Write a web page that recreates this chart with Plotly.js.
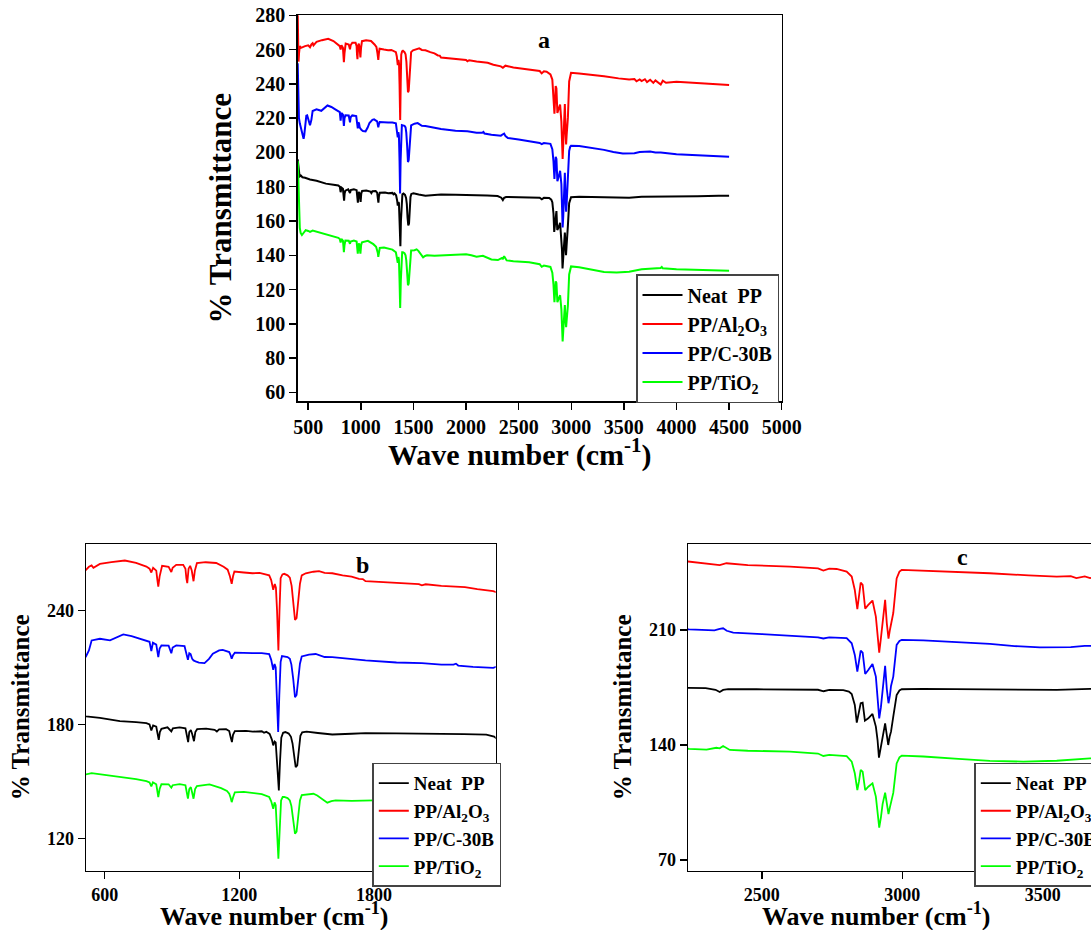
<!DOCTYPE html>
<html>
<head>
<meta charset="utf-8">
<script src="https://cdn.plot.ly/plotly-3.0.1.min.js"></script>
<style>
  html, body { margin: 0; padding: 0; overflow: hidden; background: #fff; }
  #chart { width: 1110px; height: 930px; }
</style>
</head>
<body>
<div id="chart"></div>
<script>
// ---- Data: [wave number (cm-1), % transmittance (offset)] ----
const neatPP = [[400,196],[404,194],[410,189],[418,186],[430,186.5],[445,185.5],[470,185.2],[500,184.6],[517,184.2],[579,183.5],[668,181.8],[740,181.2],[786,180.7],[800,180],[808,176.8],[816,179.5],[830,178.8],[836,175],[841,171.9],[846,176],[853,177.7],[880,178.5],[890,177.5],[897,176.3],[904,178],[934,178.5],[960,178],[966,175],[972,170.7],[977,176],[984,177],[990,175],[998,171.2],[1004,176],[1012,177.5],[1052,177.8],[1090,177.2],[1100,176.3],[1110,177.4],[1141,177.5],[1155,176.5],[1162,173],[1167,170.7],[1172,174.5],[1180,176.5],[1230,176.6],[1260,176.2],[1300,176.4],[1310,175.6],[1320,176.1],[1335,175],[1345,172],[1351,169],[1357,171],[1362,170.5],[1368,160],[1376,145.3],[1381,160],[1387,173],[1395,175.6],[1405,176],[1420,175.2],[1430,173.5],[1437,170],[1444,162],[1451,157.5],[1458,158.5],[1465,167],[1472,174],[1480,175.8],[1500,176.2],[1550,175.5],[1614,174.7],[1700,175.1],[1762,175.4],[1900,175.3],[2057,175.2],[2200,174.9],[2300,174.6],[2335,173.6],[2350,172.2],[2362,173.5],[2380,174],[2481,173.9],[2600,173.8],[2700,173.6],[2720,172.7],[2740,173.5],[2790,173.4],[2810,172.5],[2820,171],[2831,164.4],[2838,153.6],[2845,159],[2852,165.4],[2859,165.8],[2867,154.8],[2879,156.2],[2894,158.9],[2906,151.2],[2912,143],[2917,132.3],[2923,138],[2930,145.5],[2939,153.2],[2945,146],[2950,140],[2955,145],[2960,148.1],[2968,157.3],[2980,170.4],[2990,173.2],[2998,173.9],[3075,174.1],[3200,173.9],[3312,173.7],[3450,173.4],[3550,173.5],[3669,174.1],[3800,174.3],[4000,174.3],[4200,174.5],[4400,174.7],[4500,174.8]];

const ppAl2O3 = [[400,281],[404,262],[408,253],[413,258],[420,262],[432,261],[445,261.5],[470,262],[500,262.5],[517,261.4],[530,263],[542,263.7],[550,262.5],[579,264.5],[630,265.5],[690,266.3],[740,265],[786,263.1],[800,262],[808,260],[816,262.5],[830,261],[835,256],[839,252.6],[845,258],[856,263.5],[885,263],[892,261.5],[897,260.2],[903,262.5],[919,264],[950,264],[960,262],[964,257],[968,254.4],[974,262],[981,263.5],[988,261],[993,256],[996,255.4],[1002,261],[1011,264.9],[1050,265.4],[1097,265],[1130,263],[1148,261.5],[1158,258],[1166,254],[1172,258],[1178,260.5],[1220,260],[1259,259.6],[1290,259.8],[1333,258.5],[1342,256],[1351,250.9],[1358,254],[1363,252],[1368,240],[1374,219],[1379,240],[1384,257],[1392,259],[1400,259.3],[1415,258.5],[1425,257.3],[1433,253],[1440,245],[1448,235.1],[1455,236],[1462,243],[1470,254],[1478,258.5],[1496,259.6],[1530,260.4],[1555,260.7],[1580,259.8],[1614,259.6],[1660,258.5],[1700,257.8],[1733,256.6],[1750,256.5],[1762,255.4],[1850,254.7],[1910,254.4],[2000,253.9],[2013,253.2],[2030,253.8],[2100,253],[2205,252.3],[2260,251.2],[2331,250.2],[2350,249.4],[2374,250.6],[2450,249.5],[2600,248.5],[2700,247.5],[2719,246.1],[2740,247.3],[2766,247.1],[2802,245.5],[2820,242.5],[2831,234.3],[2840,222.6],[2846,230],[2852,238.8],[2859,237.4],[2868,223],[2879,225.2],[2894,227.9],[2906,218.1],[2912,208],[2918,196.2],[2924,205],[2930,215.9],[2939,228.3],[2945,214],[2951,204.7],[2956,210],[2960,214],[2968,220.3],[2980,241.4],[2990,245.5],[2998,246.5],[3075,246.1],[3200,245.3],[3312,244.5],[3450,243.2],[3550,242.5],[3600,242.8],[3620,241.5],[3650,242.6],[3669,241.6],[3700,242.7],[3720,241],[3750,242.4],[3780,240.6],[3800,242],[3830,240.8],[3850,239.6],[3870,241.8],[3900,240.6],[4000,241.2],[4200,240.5],[4400,239.9],[4500,239.4]];

const ppC30B = [[400,252],[403,240],[407,225],[412,220],[420,217],[432,214],[440,212],[450,209],[456,208],[462,210],[472,217],[482,221.5],[490,221.7],[500,219],[510,216],[517,215.8],[530,219],[542,224.2],[579,225.1],[624,224.3],[683,227.4],[720,226.5],[757,225.1],[786,224.3],[800,223.5],[808,218.6],[815,223],[830,222],[835,218],[839,215.4],[845,220],[853,221.6],[885,221.5],[892,219.5],[897,217.5],[903,220.5],[919,221.6],[956,221.2],[964,218],[971,214],[977,217.5],[983,217],[990,214.5],[996,213.7],[1005,213.2],[1020,212.5],[1045,212.3],[1065,214.5],[1082,217.2],[1110,219],[1126,219.3],[1155,218.1],[1161,216.5],[1166,214.6],[1172,216.5],[1180,217.8],[1259,217.5],[1300,217.5],[1333,217],[1342,214],[1351,208.8],[1357,211.8],[1362,210],[1368,195],[1373,176],[1378,195],[1384,213],[1390,216],[1400,215.8],[1415,215.5],[1425,214.6],[1432,211.5],[1440,204],[1448,194.4],[1455,195.5],[1462,202],[1470,212],[1478,215.8],[1510,216.8],[1540,217.1],[1580,215.5],[1614,215.4],[1700,214.4],[1762,213.7],[1900,212.6],[2013,212.3],[2100,211.5],[2154,211.5],[2165,212],[2175,211],[2241,210.3],[2331,209.8],[2350,210.6],[2362,211],[2375,209.5],[2398,208.4],[2500,207.5],[2600,206.6],[2700,205.5],[2719,204.8],[2740,205.5],[2802,205],[2820,201.9],[2831,194.8],[2840,184.6],[2846,191],[2852,197.4],[2859,196.2],[2868,183.2],[2879,185.6],[2894,189.3],[2906,181.6],[2912,170],[2918,156.2],[2924,163],[2930,173],[2939,188.1],[2945,174],[2951,165.4],[2956,170],[2960,175.9],[2968,181.6],[2980,200.9],[2990,203.3],[2998,203.9],[3075,203.7],[3200,202.6],[3312,201.5],[3400,200.2],[3490,199.4],[3600,199.5],[3650,200.3],[3700,200.4],[3750,200.5],[3800,200],[3850,199.9],[4000,199],[4200,198.3],[4500,197.5]];

const ppTiO2 = [[400,195],[403,193],[406,185],[410,170],[415,160],[420,156],[428,153],[440,151.8],[455,153],[476,154.7],[500,154.2],[517,153.7],[542,154.4],[600,153.5],[668,152.3],[740,151.2],[786,150.2],[800,149.5],[808,147.4],[815,149.5],[830,148.5],[835,145],[839,141.8],[845,146],[853,148.6],[885,148.5],[892,147.5],[897,146.7],[903,148],[934,148.6],[960,148],[966,144],[971,140.9],[977,146],[984,147],[990,144],[996,140.9],[1003,146],[1011,147.6],[1067,148.4],[1100,147.2],[1119,146.5],[1145,145],[1155,143.5],[1161,141.5],[1166,139.1],[1172,141.5],[1180,144.3],[1220,144.5],[1259,143.9],[1300,143.3],[1333,141.8],[1342,139.5],[1351,135.6],[1357,139],[1362,137.5],[1368,125],[1374,109.3],[1380,125],[1386,140],[1393,141.8],[1400,141.8],[1415,141.2],[1425,140],[1432,137],[1440,130],[1448,122.5],[1455,123.5],[1462,130],[1470,140],[1478,142.8],[1510,143],[1530,143.5],[1547,142.6],[1570,140.5],[1592,138.8],[1610,139.6],[1629,140],[1700,139.8],[1777,140],[1850,140.2],[1950,140.3],[2000,140.6],[2050,140],[2100,139.2],[2160,139.7],[2200,138.6],[2241,137.6],[2303,137.2],[2338,138.3],[2350,138],[2362,139.4],[2386,137],[2450,136.5],[2600,136],[2700,134.8],[2719,133.3],[2740,134],[2802,133.2],[2820,129.9],[2831,122.8],[2840,112.6],[2846,118],[2852,124.8],[2859,123.8],[2868,112.6],[2879,114.6],[2894,116.7],[2906,108.6],[2912,100],[2918,89.7],[2924,96],[2930,104],[2939,111],[2945,103],[2951,98],[2956,102],[2960,105.6],[2968,110.8],[2980,128.8],[2990,132.5],[2998,133.5],[3075,133],[3200,131.5],[3312,130.3],[3431,129.9],[3550,130.4],[3669,131.9],[3750,132.4],[3850,132.6],[3860,133.2],[3870,132.4],[4000,131.8],[4200,131.4],[4500,131]];

const seriesNames = ['Neat\u00a0\u00a0PP', 'PP/Al<sub>2</sub>O<sub>3</sub>', 'PP/C-30B', 'PP/TiO<sub>2</sub>'];
const seriesData = [neatPP, ppAl2O3, ppC30B, ppTiO2];
const seriesColors = ['#000000', '#ff0000', '#0000ff', '#00ff00'];

const panelLetters = ['a', 'b', 'c'];
const ticksA_x = [500, 1000, 1500, 2000, 2500, 3000, 3500, 4000, 4500, 5000];
const ticksA_y = [60, 80, 100, 120, 140, 160, 180, 200, 220, 240, 260, 280];
const ticksB_x = [600, 1200, 1800];
const ticksB_y = [120, 180, 240];
const ticksC_x = [2500, 3000, 3500];
const ticksC_y = [70, 140, 210];

// ---- Layout ----
const W = 1110, H = 930;
const FONT = '"Liberation Serif", "Times New Roman", serif';
const px = v => v / W;
const py = v => 1 - v / H;

const panels = [
  { xa: 'x',  ya: 'y',  leg: 'legend',  lw: 2.0 },
  { xa: 'x2', ya: 'y2', leg: 'legend2', lw: 1.8 },
  { xa: 'x3', ya: 'y3', leg: 'legend3', lw: 1.8 }
];

const traces = [];
panels.forEach(p => {
  seriesData.forEach((d, i) => {
    traces.push({
      type: 'scatter', mode: 'lines',
      x: d.map(r => r[0]), y: d.map(r => r[1]),
      xaxis: p.xa, yaxis: p.ya, legend: p.leg,
      name: seriesNames[i],
      line: { color: seriesColors[i], width: p.lw },
      hoverinfo: 'skip'
    });
  });
});

function axis(domain, range, tickvals, tsize, anchor, title, tfont, standoff) {
  const a = {
    domain: domain, range: range, anchor: anchor,
    tickmode: 'array', tickvals: tickvals,
    showline: true, mirror: true, linecolor: '#000', linewidth: 1.5,
    ticks: 'outside', ticklen: 7, tickwidth: 1.5, tickcolor: '#000',
    showgrid: false, zeroline: false,
    tickfont: { family: FONT, size: tsize, color: '#000', weight: 'bold' }
  };
  if (title) a.title = { text: title, font: { family: FONT, size: tfont, color: '#000', weight: 'bold' }, standoff: standoff };
  return a;
}

const xTitle = 'Wave number (cm<sup>-1</sup>)';
const yTitle = '% Transmittance';

function legendAt(x, y, size, itemw) {
  return {
    x: px(x), y: py(y), xanchor: 'left', yanchor: 'top',
    bgcolor: '#ffffff', bordercolor: '#444', borderwidth: 1.5,
    font: { family: FONT, size: size, color: '#000', weight: 'bold' },
    tracegroupgap: 0, itemwidth: itemw
  };
}

function label(t, x, y, size) {
  return { text: t, x: px(x), y: py(y), xref: 'paper', yref: 'paper',
    showarrow: false, xanchor: 'center', yanchor: 'middle',
    font: { family: FONT, size: size, color: '#000', weight: 'bold' } };
}

const layout = {
  width: W, height: H,
  margin: { l: 0, r: 0, t: 0, b: 0 },
  paper_bgcolor: '#fff', plot_bgcolor: '#fff',
  xaxis:  axis([px(297.7), px(781.7)], [400, 5000], ticksA_x, 20, 'y'),
  yaxis:  axis([py(401), py(15.3)], [55, 280], ticksA_y, 20, 'x', yTitle, 31, 14),
  xaxis2: axis([px(86), px(495.7)], [517, 2342], ticksB_x, 18, 'y2'),
  yaxis2: axis([py(870.7), py(544)], [103, 275], ticksB_y, 18, 'x2', yTitle, 25, 10),
  xaxis3: axis([px(688), px(1097.7)], [2237, 3696], ticksC_x, 18, 'y3'),
  yaxis3: axis([py(870.7), py(544)], [63.5, 262.3], ticksC_y, 18, 'x3', yTitle, 25, 10),
  legend:  legendAt(636, 274, 20, 40),
  legend2: legendAt(372.3, 762.7, 19, 30),
  legend3: legendAt(974.3, 762.7, 19, 30),
  annotations: [
    label(panelLetters[0], 543.5, 40, 24),
    label(panelLetters[1], 362.5, 565, 24),
    label(panelLetters[2], 962.5, 557, 24),
    label(xTitle, 520, 453, 30),
    label(xTitle, 274, 914, 26),
    label(xTitle, 876, 914, 26)
  ],
  showlegend: true
};

Plotly.newPlot('chart', traces, layout, { staticPlot: true, displayModeBar: false });
</script>
</body>
</html>
